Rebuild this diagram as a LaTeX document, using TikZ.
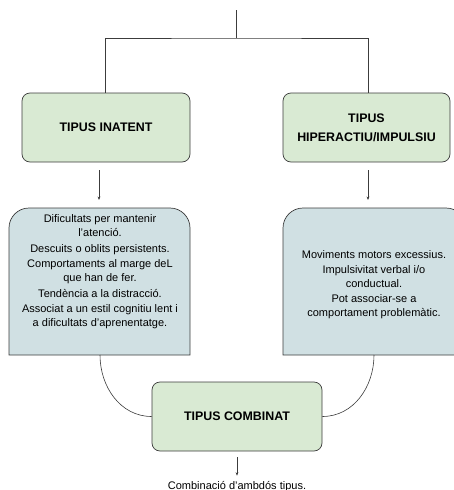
\documentclass[tikz,border=0pt]{standalone}
\usepackage{fontspec}
\setmainfont{Liberation Sans}
\usetikzlibrary{arrows.meta}
\definecolor{gbox}{HTML}{D9EAD3}
\definecolor{bbox}{HTML}{D0E0E3}
\definecolor{edge}{HTML}{3C3C3C}
\begin{document}
\begin{tikzpicture}[x=1pt,y=-1pt,
  conn/.style={draw=edge,line width=0.6pt},
  arr/.style={conn,-{Stealth[length=3.5pt,width=2.8pt]}},
  greenbox/.style={draw=edge,line width=0.7pt,fill=gbox,rounded corners=8pt,align=center,
    font=\fontsize{12.4}{19}\selectfont\bfseries,inner sep=0pt},
  bodytext/.style={align=center,font=\fontsize{11}{14}\selectfont,inner sep=0pt},
  hole/.style={inner sep=0pt,outer sep=0pt}]
\useasboundingbox (0,0) rectangle (454,490);
\clip (0,0) rectangle (454,490);

% green title boxes
\node[greenbox,minimum width=168pt,minimum height=69pt] (ina) at (106,127.5) {TIPUS INATENT};
\node[greenbox,minimum width=167pt,minimum height=69pt] (hip) at (366.5,127.5) {TIPUS\\HIPERACTIU/IMPULSIU};
\node[greenbox,minimum width=170pt,minimum height=69pt] (com) at (237,416.5) {TIPUS COMBINAT};

% blue description boxes (frames)
\node[hole,minimum width=181pt,minimum height=147pt] (lb) at (99.5,281.5) {};
\node[hole,minimum width=183pt,minimum height=147pt] (rb) at (374.5,281.5) {};
\foreach \b in {lb,rb}{
  \draw[draw=edge,line width=0.7pt,fill=bbox] (\b.south west) [rounded corners=20pt] -- (\b.north west) -- (\b.north east) [sharp corners] -- (\b.south east) -- cycle;
}

\node[bodytext] (lt) at (100,272) {Dificultats per mantenir\\l'atenció.\\[1.5pt]
Descuits o oblits persistents.\\[1.5pt]
Comportaments al marge deL\\que han de fer.\\[1.5pt]
Tendència a la distracció.\\[1.5pt]
Associat a un estil cognitiu lent i\\a dificultats d'aprenentatge.};
\node[bodytext] (rt) at (374,285) {Moviments motors excessius.\\[1pt]
Impulsivitat verbal i/o\\conductual.\\[1pt]
Pot associar-se a\\comportament problemàtic.};

% top tree connector
\coordinate (top) at (236,10);
\coordinate (mid) at (236,38);
\draw[conn] (top) -- (mid);
\draw[conn] (ina.north -| 105,0) |- (mid) -| (hip.north -| 368,0);

% arrows to blue boxes
\coordinate (la) at (99,170);
\coordinate (ra) at (368,170);
\draw[arr] (la) -- ([yshift=8pt]la |- lb.north);
\draw[arr] (ra) -- ([yshift=8pt]ra |- rb.north);

% curves into combined box
\draw[conn] (lb.south -| 100,0) to[out=-90,in=180] (com.west);
\draw[conn] (rb.south -| 374,0) to[out=-90,in=0] (com.east);

% final arrow and text
\node[bodytext,anchor=base] (fin) at (237,489) {Combinació d’ambdós tipus.};
\draw[arr] ([yshift=-6pt]com.south) -- ([yshift=5pt]fin.north);
\end{tikzpicture}
\end{document}
